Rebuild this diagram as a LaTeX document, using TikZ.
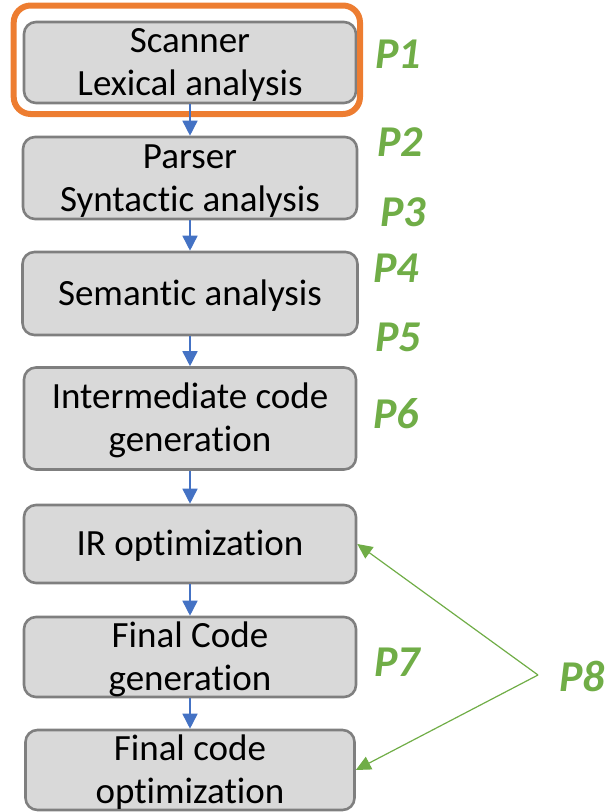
\documentclass[tikz,border=0pt]{standalone}
\usepackage{fontspec}
\setmainfont[Ligatures={NoCommon}]{Carlito}
\usetikzlibrary{arrows.meta}
\definecolor{boxfill}{HTML}{D9D9D9}
\definecolor{boxline}{HTML}{7F7F7F}
\definecolor{flowblue}{HTML}{4472C4}
\definecolor{passgreen}{HTML}{70AD47}
\definecolor{hlorange}{HTML}{ED7D31}
% fixed-size strut so every text line occupies the same 43pt slot
\newcommand\linestrut{\rule[-10pt]{0pt}{43pt}}
\begin{document}
\begin{tikzpicture}[x=1pt,y=-1pt,
  stage/.style={draw=boxline, line width=2.6pt, fill=boxfill, rounded corners=12pt,
    inner sep=0pt},
  stagetext/.style={inner sep=0pt, align=center, font=\fontsize{37}{43}\selectfont},
  flow/.style={draw=flowblue, line width=1.6pt, -{Triangle[length=15pt,width=15pt]}},
  pass/.style={text=passgreen, inner sep=0pt, text height=28pt, text depth=0pt,
    font=\fontsize{44}{50}\selectfont\bfseries\itshape},
  passlink/.style={draw=passgreen, line width=1.2pt, -{Triangle[length=15pt,width=14pt]}}
]
\useasboundingbox (0,0) rectangle (611,812);

% pipeline stages
\node[stage, minimum width=332pt, minimum height=81pt]  (b1) at (190,62.5) {};
\node[stage, minimum width=334pt, minimum height=82pt]  (b2) at (190,178) {};
\node[stage, minimum width=335pt, minimum height=83pt]  (b3) at (190,293.5) {};
\node[stage, minimum width=332pt, minimum height=102pt] (b4) at (190,418.5) {};
\node[stage, minimum width=332pt, minimum height=78pt]  (b5) at (190,544) {};
\node[stage, minimum width=332pt, minimum height=80pt]  (b6) at (190,657) {};
\node[stage, minimum width=329pt, minimum height=80pt]  (b7) at (190,770) {};

\node[stagetext] (t1) at (b1) {\linestrut Scanner\\\linestrut Lexical analysis};
\node[stagetext] (t2) at (b2) {\linestrut Parser\\\linestrut Syntactic analysis};
\node[stagetext] (t3) at (b3) {\linestrut Semantic analysis};
\node[stagetext] (t4) at (b4) {\linestrut Intermediate code\\\linestrut generation};
\node[stagetext] (t5) at (b5) {\linestrut IR optimization};
\node[stagetext] (t6) at (b6) {\linestrut Final Code\\\linestrut generation};
\node[stagetext] (t7) at (b7) {\linestrut Final code\\\linestrut optimization};

% highlight around the first stage
\draw[hlorange, line width=6pt, rounded corners=17pt] (13.7,5.5) rectangle (360,114);

% flow between stages
\draw[flow] (b1.south) -- (b2.north);
\draw[flow] (b2.south) -- (b3.north);
\draw[flow] (b3.south) -- (b4.north);
\draw[flow] (b4.south) -- (b5.north);
\draw[flow] (b5.south) -- (b6.north);
\draw[flow] (b6.south) -- (b7.north);

% pass labels
\node[pass] (p1) at (398,54)    {P1};
\node[pass] (p2) at (400,142.5) {P2};
\node[pass] (p3) at (403,212)   {P3};
\node[pass] (p4) at (396,268.5) {P4};
\node[pass] (p5) at (398,337)   {P5};
\node[pass] (p6) at (396,414)   {P6};
\node[pass] (p7) at (397,662.5) {P7};
\node[pass] (p8) at (582,677)   {P8};

% P8 covers both optimization stages
\coordinate (fork) at (538,675);
\draw[passlink] (fork) -- (b5.east);
\draw[passlink] (fork) -- (b7.east);
\end{tikzpicture}
\end{document}
